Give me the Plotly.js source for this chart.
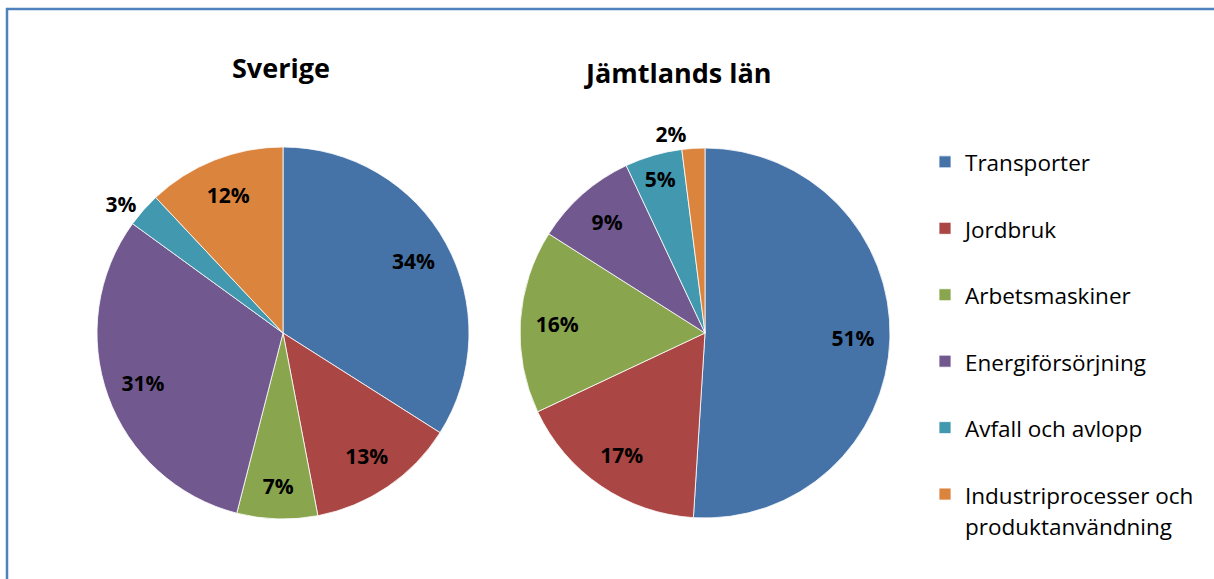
<!DOCTYPE html>
<html>
<head>
<meta charset="utf-8">
<script src="https://cdn.plot.ly/plotly-3.0.1.min.js"></script>
<style>html,body{margin:0;padding:0;background:#fff;}#chart{width:1214px;height:579px;}</style>
</head>
<body>
<div id="chart"></div>
<script>
// ---- data ----
var categories = ["Transporter", "Jordbruk", "Arbetsmaskiner", "Energiförsörjning", "Avfall och avlopp", "Industriprocesser och produktanvändning"];
var regionTitles = ["Sverige", "Jämtlands län"];
var sverigeValues = [34, 13, 7, 31, 3, 12];
var jamtlandValues = [51, 17, 16, 9, 5, 2];
var sliceColors = ["#4572A7", "#AA4643", "#89A54E", "#71588F", "#4198AF", "#DB843D"];

// ---- presentation helpers ----
var W = 1214, H = 579;
function px(x) { return x / W; }
function py(y) { return 1 - y / H; }

// legend labels: wrap long name, pad to keep Excel-like spacing
function legendLabel(name) {
  var t = name.replace(" och produktanvändning", " och<br>produktanvändning");
  if (t.indexOf("<br>") < 0) t = t + "<br> ";
  return t.split("<br>").map(function (s) {
    return '<span style="font-size:22.5px">' + s + '</span>';
  }).join("<br>");
}
var labels = categories.map(legendLabel);

function positions(vals) {
  return vals.map(function (v) { return v <= 3 ? "outside" : "inside"; });
}

var labelFont = { family: "Open Sans", size: 21, color: "#000000", weight: "bold" };

function pieTraces(vals, name, xd) {
  var domain = { x: xd, y: [py(519), py(147)] };
  var base = {
    type: "pie", labels: labels, values: vals, name: name,
    sort: false, direction: "clockwise", rotation: 0,
    marker: { colors: sliceColors, line: { color: "#ffffff", width: 0.8 } },
    textinfo: "none", hoverinfo: "label+value",
    domain: domain
  };
  // transparent ring carrying the percentage labels so they sit near the rim
  var text = {
    type: "pie", labels: labels, values: vals, name: name,
    sort: false, direction: "clockwise", rotation: 0, hole: 0.6,
    marker: { colors: sliceColors.map(function () { return "rgba(0,0,0,0)"; }), line: { width: 0 } },
    texttemplate: "%{value}%",
    textposition: positions(vals),
    insidetextorientation: "horizontal",
    textfont: labelFont, insidetextfont: labelFont, outsidetextfont: labelFont,
    showlegend: false, hoverinfo: "skip",
    domain: domain
  };
  return [base, text];
}

var data = []
  .concat(pieTraces(sverigeValues, regionTitles[0], [px(97), px(469)]))
  .concat(pieTraces(jamtlandValues, regionTitles[1], [px(520), px(890)]));

var layout = {
  width: W, height: H,
  margin: { l: 0, r: 0, t: 0, b: 0 },
  paper_bgcolor: "#ffffff",
  showlegend: true,
  legend: {
    x: px(925), y: py(139.5), xanchor: "left", yanchor: "top",
    valign: "top",
    font: { family: "Open Sans", size: 24.4, color: "#000000" },
    bgcolor: "rgba(0,0,0,0)"
  },
  annotations: [
    { text: regionTitles[0], x: px(281), y: py(67), xref: "paper", yref: "paper", showarrow: false,
      xanchor: "center", yanchor: "middle", font: { family: "Open Sans", size: 27, color: "#000000", weight: "bold" } },
    { text: regionTitles[1], x: px(678), y: py(72), xref: "paper", yref: "paper", showarrow: false,
      xanchor: "center", yanchor: "middle", font: { family: "Open Sans", size: 27, color: "#000000", weight: "bold" } }
  ],
  shapes: [
    { type: "line", xref: "paper", yref: "paper", x0: px(6), x1: 1, y0: py(9), y1: py(9), line: { color: "#4F81BD", width: 2.5 } },
    { type: "line", xref: "paper", yref: "paper", x0: px(7), x1: px(7), y0: py(8), y1: 0, line: { color: "#4F81BD", width: 2.5 } }
  ]
};

Plotly.newPlot("chart", data, layout, { displayModeBar: false, staticPlot: true });
</script>
</body>
</html>
